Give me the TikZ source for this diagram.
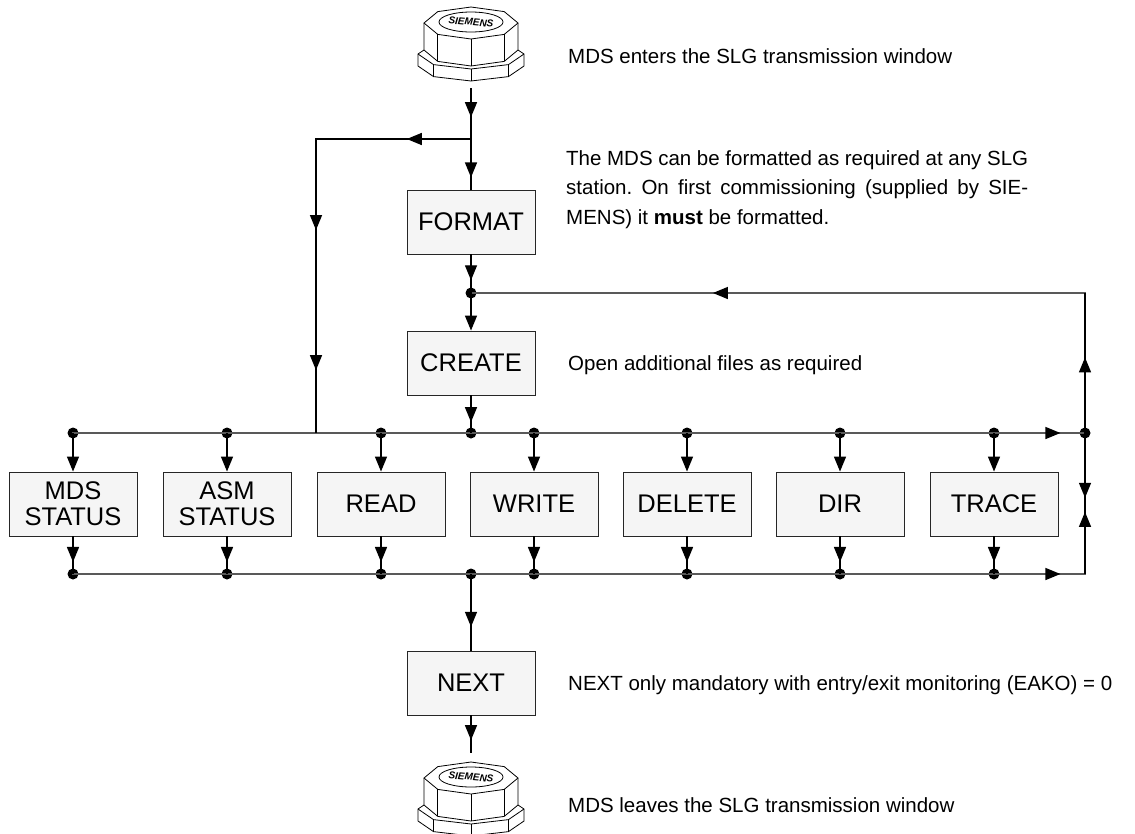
\documentclass[tikz,border=0pt]{standalone}
\usepackage{fontspec}
\setmainfont{Liberation Sans}
\usepackage{tikz}
\usetikzlibrary{arrows.meta}
\usetikzlibrary{decorations.markings}
\frenchspacing
\definecolor{boxgray}{gray}{0.96}
\tikzstyle{procnode}=[draw=black!85, line width=0.9pt, shape=rectangle, fill=boxgray, minimum width=128pt, minimum height=64pt, inner sep=0pt, align=center, font=\fontsize{25.5}{26}\selectfont]
\tikzstyle{notenode}=[shape=rectangle, inner sep=0pt, anchor=base west, font=\fontsize{20.5}{29.5}\selectfont]
\tikzstyle{dotnode}=[shape=circle, fill=black, inner sep=0pt, minimum size=11pt]
\tikzstyle{holdnode}=[shape=rectangle, inner sep=0pt, minimum width=106pt]
\tikzstyle{wire}=[line width=1.4pt, color=black]
\tikzstyle{bus}=[line width=1.4pt, color=black!65, line cap=rect]
\tikzstyle{into}=[-{Triangle[length=15pt, width=12pt]}]
\tikzstyle{nutline}=[line width=0.8pt, color=black, line join=round]
\tikzset{arrowat/.style={postaction={decorate}, decoration={markings, mark=at position #1 with {\arrow[black]{Triangle[length=15pt, width=12pt]}}}}}
% octagonal MDS with its lid
\tikzset{mdsnut/.pic={
  \draw[nutline, fill=white] (-47,15) -- (-33.2,3.6) -- (0,-1) -- (33.2,3.6) -- (47,15) -- (33.2,26.4) -- (0,31) -- (-33.2,26.4) -- cycle;
  \draw[nutline] (-47,15) -- (-47,42) -- (-33.2,53.4) -- (0,58) -- (33.2,53.4) -- (47,42) -- (47,15);
  \draw[nutline] (-33.2,26.4) -- (-33.2,53.4);
  \draw[nutline] (0,31) -- (0,58);
  \draw[nutline] (33.2,26.4) -- (33.2,53.4);
  \draw[nutline] (-47,42) -- (-53,46) -- (-53,58) -- (-37.5,68.6) -- (0,73) -- (37.5,68.6) -- (53,58) -- (53,46) -- (47,42);
  \draw[nutline] (-53,46) -- (-37.5,56.6) -- (0,61) -- (37.5,56.6) -- (53,46);
  \draw[nutline] (-37.5,56.6) -- (-37.5,68.6);
  \draw[nutline] (0,61) -- (0,73);
  \draw[nutline] (37.5,56.6) -- (37.5,68.6);
  \draw[nutline] (0,14) ellipse [x radius=32, y radius=10];
  \node[inner sep=0pt, rotate=-5, font=\fontsize{10}{10}\selectfont\bfseries\itshape] at (0,14) {SIEMENS};
}}

\begin{document}
\begin{tikzpicture}[x=1pt, y=-1pt]
\useasboundingbox (0,0) rectangle (1135,833);

\pic at (471,8) {mdsnut};
\pic at (471,763) {mdsnut};
\node [holdnode, minimum height=80pt] (mdsin) at (471,48) {};
\node [holdnode, minimum height=90pt] (mdsout) at (471,798) {};

\node [procnode] (format) at (471,222) {FORMAT};
\node [procnode] (create) at (471,363) {CREATE};
\node [procnode] (next) at (471,683) {NEXT};
\node [procnode] (mdsstat) at (73,504) {MDS\\STATUS};
\node [procnode] (asmstat) at (227,504) {ASM\\STATUS};
\node [procnode] (read) at (381,504) {READ};
\node [procnode] (write) at (534,504) {WRITE};
\node [procnode] (delete) at (687,504) {DELETE};
\node [procnode] (dir) at (840,504) {DIR};
\node [procnode] (trace) at (994,504) {TRACE};

\coordinate (fork) at (471,139);
\coordinate (bend) at (316,139);
\coordinate (busleft) at (316,433);
\coordinate (loop) at (1085,293);
\coordinate (rmid) at (1085,505);
\coordinate (lowright) at (1085,574);
\node [dotnode] (merge) at (471,293) {};
\node [dotnode] (uright) at (1085,433) {};

% upper bus
\node [dotnode] (u1) at (73,433) {};
\node [dotnode] (u2) at (227,433) {};
\node [dotnode] (u3) at (381,433) {};
\node [dotnode] (uc) at (471,433) {};
\node [dotnode] (u4) at (534,433) {};
\node [dotnode] (u5) at (687,433) {};
\node [dotnode] (u6) at (840,433) {};
\node [dotnode] (u7) at (994,433) {};
% lower bus
\node [dotnode] (l1) at (73,574) {};
\node [dotnode] (l2) at (227,574) {};
\node [dotnode] (l3) at (381,574) {};
\node [dotnode] (lc) at (471,574) {};
\node [dotnode] (l4) at (534,574) {};
\node [dotnode] (l5) at (687,574) {};
\node [dotnode] (l6) at (840,574) {};
\node [dotnode] (l7) at (994,574) {};

\draw[bus] (u1.center) -- (u7.center);
\draw[bus, arrowat=0.73] (u7.center) -- (uright.center);
\draw[bus] (l1.center) -- (l7.center);
\draw[bus, arrowat=0.73] (l7.center) -- (lowright);
\draw[bus, arrowat=0.606] (loop) -- (merge.center);

\draw[wire, arrowat=0.57] (mdsin.south) -- (fork);
\draw[wire, arrowat=0.76] (fork) -- (format.north);
\draw[wire, postaction={decorate}, decoration={markings,
  mark=at position 0.143 with {\arrow{Triangle[length=15pt, width=12pt]}},
  mark=at position 0.548 with {\arrow{Triangle[length=15pt, width=12pt]}},
  mark=at position 0.86 with {\arrow{Triangle[length=15pt, width=12pt]}}}] (fork) -- (bend) -- (busleft);
\draw[wire, arrowat=0.67] (format.south) -- (merge.center);
\draw[wire, into] (merge.center) -- (create.north);
\draw[wire, arrowat=0.71] (create.south) -- (uc.center);

\draw[wire, into] (u1.center) -- (mdsstat.north);
\draw[wire, into] (u2.center) -- (asmstat.north);
\draw[wire, into] (u3.center) -- (read.north);
\draw[wire, into] (u4.center) -- (write.north);
\draw[wire, into] (u5.center) -- (delete.north);
\draw[wire, into] (u6.center) -- (dir.north);
\draw[wire, into] (u7.center) -- (trace.north);
\draw[wire, arrowat=0.68] (mdsstat.south) -- (l1.center);
\draw[wire, arrowat=0.68] (asmstat.south) -- (l2.center);
\draw[wire, arrowat=0.68] (read.south) -- (l3.center);
\draw[wire, arrowat=0.68] (write.south) -- (l4.center);
\draw[wire, arrowat=0.68] (delete.south) -- (l5.center);
\draw[wire, arrowat=0.68] (dir.south) -- (l6.center);
\draw[wire, arrowat=0.68] (trace.south) -- (l7.center);

\draw[wire, arrowat=0.9] (uright.center) -- (rmid);
\draw[wire, arrowat=0.9] (lowright) -- (rmid);
\draw[wire, arrowat=0.54] (uright.center) -- (loop);

\draw[wire, arrowat=0.69] (lc.center) -- (next.north);
\draw[wire, arrowat=0.66] (next.south) -- (mdsout.north);

\node [notenode] (enternote) at (568,63) {MDS enters the SLG transmission window};
\node [notenode, anchor=north west, text width=462pt, align=justify] (formatnote) at (566,150) {The MDS can be formatted as required at any SLG\linebreak station. On first commissioning (supplied by SIE-\linebreak MENS) it \textbf{must} be formatted.};
\node [notenode] (createnote) at (568,370) {Open additional files as required};
\node [notenode] (nextnote) at (568,690) {NEXT only mandatory with entry/exit monitoring (EAKO) = 0};
\node [notenode] (leavenote) at (568,812) {MDS leaves the SLG transmission window};
\end{tikzpicture}
\end{document}
